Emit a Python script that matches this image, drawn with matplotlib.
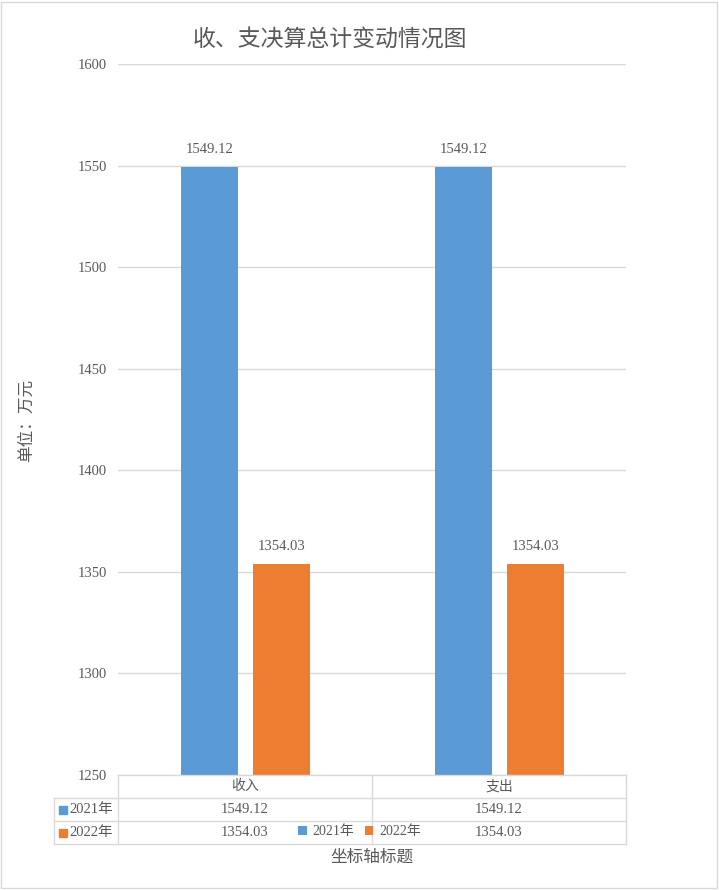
import matplotlib
matplotlib.use("Agg")
import matplotlib.pyplot as plt
from matplotlib.patches import Rectangle
import numpy as np

plt.rcParams['font.family'] = ['Liberation Serif', 'Noto Sans CJK SC', 'DejaVu Sans']

categories = ["收入", "支出"]
series_names = ["2021年", "2022年"]
values_2021 = [1549.12, 1549.12]
values_2022 = [1354.03, 1354.03]
yticks = [1250, 1300, 1350, 1400, 1450, 1500, 1550, 1600]
title = "收、支决算总计变动情况图"
ylabel = "单位：万元"
xlabel = "坐标轴标题"

colors = ["#5B9BD5", "#ED7D31"]
text_color = "#595959"
grid_color = "#D9D9D9"

W, H = 719, 890
fig = plt.figure(figsize=(W / 100, H / 100), dpi=100)

# main axes in pixel layout
left_px, right_px, top_px, bottom_px = 118, 626, 64, 775
ax = fig.add_axes([left_px / W, 1 - bottom_px / H, (right_px - left_px) / W, (bottom_px - top_px) / H])

x = np.arange(len(categories))
bw = 0.224
off = 0.142
series = [values_2021, values_2022]
bars = []
for i, (vals, name) in enumerate(zip(series, series_names)):
    b = ax.bar(x + (i * 2 - 1) * off + 0.003, vals, width=bw, color=colors[i], label=name, zorder=3)
    bars.append(b)
    ax.bar_label(b, labels=[f"{v:.2f}" for v in vals], padding=8, fontsize=10.5, color=text_color)

ax.set_xlim(-0.5, len(categories) - 0.5)
ax.set_ylim(yticks[0], yticks[-1])
ax.set_yticks(yticks)
ax.set_yticklabels([str(t) for t in yticks])
ax.set_xticks([])
ax.tick_params(axis='y', length=0, pad=8, labelsize=10.5, labelcolor=text_color)
ax.grid(axis='y', color=grid_color, linewidth=1, zorder=0)
for s in ax.spines.values():
    s.set_visible(False)

# data table axes
row_label_w = 64 / 254
tab_top_px, tab_bot_px = 775, 844
tax = fig.add_axes([54 / W, 1 - tab_bot_px / H, (626 - 54) / W, (tab_bot_px - tab_top_px) / H])
tax.set_xlim(-0.5 - row_label_w, len(categories) - 0.5)
tax.set_ylim(0, 3)
tax.axis('off')
lc = grid_color
lw = 1
tax.plot([-0.5, len(categories) - 0.5], [3, 3], color=lc, lw=lw, clip_on=False)
for yy in [2, 1, 0]:
    tax.plot([-0.5 - row_label_w, len(categories) - 0.5], [yy, yy], color=lc, lw=lw, clip_on=False)
tax.plot([-0.5 - row_label_w] * 2, [0, 2], color=lc, lw=lw, clip_on=False)
for xx in np.arange(len(categories) + 1) - 0.5:
    tax.plot([xx, xx], [0, 3], color=lc, lw=lw, clip_on=False)

for i, c in enumerate(categories):
    tax.text(i, 2.5, c, ha='center', va='center', fontsize=10, color=text_color)
for r, (vals, name) in enumerate(zip(series, series_names)):
    yc = 1.5 - r
    tax.scatter([-0.5 - row_label_w + 9 / 254], [yc], marker='s', s=26, color=colors[r], clip_on=False)
    tax.text(-0.5 - row_label_w + 15 / 254, yc, name, ha='left', va='center', fontsize=10.5, color=text_color)
    for i, v in enumerate(vals):
        tax.text(i, yc, f"{v:.2f}", ha='center', va='center', fontsize=10.5, color=text_color)

# legend placed in the table bottom row
leg = fig.legend(handles=bars, labels=series_names, loc='center', bbox_to_anchor=(0.5, 1 - 832 / H),
                 ncol=2, frameon=False, fontsize=10, handlelength=0.6, handleheight=0.6,
                 handletextpad=0.4, columnspacing=0.8, labelcolor=text_color)

fig.text(330 / W, 1 - 40 / H, title, ha='center', va='center', fontsize=16.5, color=text_color)
fig.text(27 / W, 1 - 420 / H, ylabel, ha='center', va='center', rotation=90, fontsize=12, color=text_color)
fig.text(372 / W, 1 - 858 / H, xlabel, ha='center', va='center', fontsize=12, color=text_color)

fig.patches.append(Rectangle((1 / W, 1 - 888 / H), 716 / W, 886 / H, transform=fig.transFigure,
                             fill=False, ec=grid_color, lw=1))

fig.savefig("out.png", dpi=100)
